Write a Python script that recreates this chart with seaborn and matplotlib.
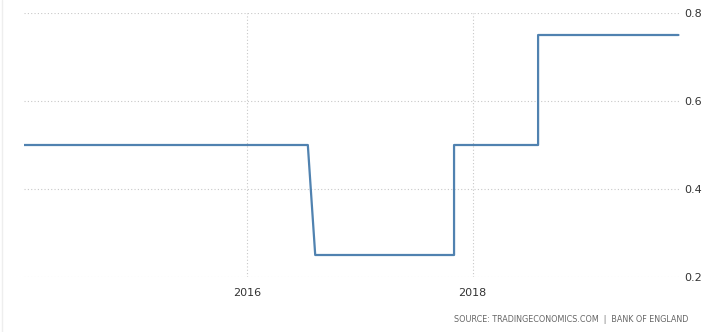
import matplotlib
matplotlib.use("Agg")
import matplotlib.pyplot as plt
from matplotlib.lines import Line2D
import seaborn as sns
import pandas as pd

# Bank of England interest rate (step points)
dates = ["2014-01-01", "2016-07-15", "2016-08-08", "2017-11-02", "2017-11-02",
         "2018-08-02", "2018-08-02", "2019-11-01"]
rates = [0.50, 0.50, 0.25, 0.25, 0.50, 0.50, 0.75, 0.75]
y_ticks = [0.2, 0.4, 0.6, 0.8]
y_tick_labels = ["0.2", "0.4", "0.6", "0.8"]
x_tick_years = ["2016", "2018"]
source_text = "SOURCE: TRADINGECONOMICS.COM  |  BANK OF ENGLAND"

df = pd.DataFrame({"date": pd.to_datetime(dates), "rate": rates})

sns.set_style("white")
plt.rcParams["font.family"] = ["DejaVu Sans"]

fig = plt.figure(figsize=(7.16, 3.32), dpi=100)
ax = fig.add_axes([24 / 716, 1 - 277 / 332, (680 - 24) / 716, (277 - 13) / 332])

sns.lineplot(data=df, x="date", y="rate", ax=ax, color="#5082b0", linewidth=1.6,
             sort=False, estimator=None)

ax.set_xlim(pd.Timestamp("2014-01-05"), pd.Timestamp("2019-11-06"))
ax.set_ylim(0.2, 0.8)
ax.yaxis.tick_right()
ax.set_yticks(y_ticks)
ax.set_yticklabels(y_tick_labels)
ax.set_xticks([pd.Timestamp(f"{y}-01-01") for y in x_tick_years])
ax.set_xticklabels(x_tick_years)
ax.tick_params(axis="both", length=0, labelsize=8, colors="#333333")
ax.tick_params(axis="x", pad=8)
ax.tick_params(axis="y", pad=3)
ax.set_xlabel("")
ax.set_ylabel("")
for s in ax.spines.values():
    s.set_visible(False)
ax.grid(True, color="#c8c8c8", linestyle=(0, (1, 2)), linewidth=0.8)
ax.set_axisbelow(True)

fig.text(688 / 716, 1 - 320 / 332, source_text, ha="right", va="center",
         fontsize=5.8, color="#666666")
fig.add_artist(Line2D([2 / 716, 2 / 716], [0, 1], color="#eeeeee", linewidth=1,
                      transform=fig.transFigure))

fig.savefig("out.png", dpi=100)
